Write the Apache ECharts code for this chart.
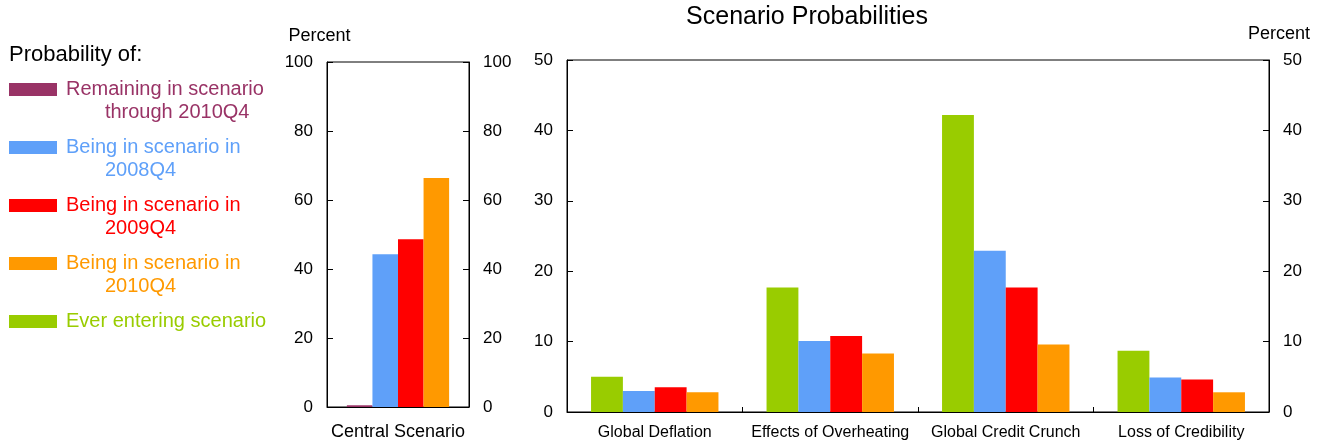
<!DOCTYPE html>
<html>
<head>
<meta charset="utf-8">
<script src="https://cdn.jsdelivr.net/npm/echarts@6/dist/echarts.min.js"></script>
<style>
html,body{margin:0;padding:0;background:#fff;}
#chart{width:1325px;height:446px;}
</style>
</head>
<body>
<div id="chart"></div>
<script>
// ---- data ----
const centralCategories = ['Central Scenario'];
const scenarioCategories = ['Global Deflation', 'Effects of Overheating', 'Global Credit Crunch', 'Loss of Credibility'];

const centralRemaining = [0.5];
const central2008 = [44.3];
const central2009 = [48.6];
const central2010 = [66.4];

const scenarioEver = [5.0, 17.7, 42.2, 8.7];
const scenario2008 = [3.0, 10.1, 22.9, 4.9];
const scenario2009 = [3.5, 10.8, 17.7, 4.6];
const scenario2010 = [2.8, 8.3, 9.6, 2.8];

const seriesNames = ['Remaining in scenario', 'Being in scenario in 2008Q4', 'Being in scenario in 2009Q4', 'Being in scenario in 2010Q4', 'Ever entering scenario'];
const legendLines = [
  ['Remaining in scenario', 'through 2010Q4'],
  ['Being in scenario in', '2008Q4'],
  ['Being in scenario in', '2009Q4'],
  ['Being in scenario in', '2010Q4'],
  ['Ever entering scenario', '']
];
const seriesColors = ['#993366', '#5FA0F9', '#FF0000', '#FF9900', '#99CC00'];

// ---- chart ----
const FONT = 'Liberation Sans, Arial, sans-serif';
const chart = echarts.init(document.getElementById('chart'), null, {renderer: 'canvas'});

function yAxis(gridIndex, pos, max, interval, name, namePad) {
  return {
    type: 'value', gridIndex, position: pos, min: 0, max, interval,
    name: name || '', nameLocation: 'end', nameGap: 17,
    nameTextStyle: {fontFamily: FONT, fontSize: 18, color: '#000', padding: namePad || 0},
    axisLine: {show: true, lineStyle: {color: '#000', width: 1}},
    axisTick: {show: true, inside: true, length: 6, lineStyle: {color: '#000'}},
    axisLabel: {show: true, margin: 14, fontFamily: FONT, fontSize: 17, color: '#000'},
    splitLine: {show: false}
  };
}

function bar(name, data, colorIdx, axisIdx, gap) {
  return {
    type: 'bar', name, data,
    xAxisIndex: axisIdx, yAxisIndex: axisIdx * 2,
    barGap: '0%', barCategoryGap: gap,
    itemStyle: {color: seriesColors[colorIdx]},
    emphasis: {disabled: true},
    animation: false
  };
}

const INDENT = '       ';
const legendData = seriesNames.map((n, i) => ({
  name: n,
  itemStyle: {color: seriesColors[i]},
  textStyle: {color: seriesColors[i]}
}));

chart.setOption({
  animation: false,
  backgroundColor: '#fff',
  title: [
    {text: 'Scenario Probabilities', left: 802, top: 0, textAlign: 'center',
     textStyle: {fontFamily: FONT, fontSize: 25, fontWeight: 'normal', color: '#000'}},
    {text: 'Probability of:', left: 4, top: 39,
     textStyle: {fontFamily: FONT, fontSize: 22, fontWeight: 'normal', color: '#000'}}
  ],
  legend: {
    orient: 'vertical', left: 4, top: 50,
    itemWidth: 48, itemHeight: 13, itemGap: -11,
    icon: 'rect',
    selectedMode: false,
    data: legendData,
    formatter: name => {
      const l = legendLines[seriesNames.indexOf(name)];
      return ' \n' + l[0] + '\n' + (l[1] ? INDENT + l[1] : ' ');
    },
    textStyle: {fontFamily: FONT, fontSize: 20, lineHeight: 23, padding: [0, 0, 0, 4]}
  },
  grid: [
    {left: 327, top: 62, width: 142, height: 345, show: true, borderColor: '#000', borderWidth: 1, containLabel: false},
    {left: 567, top: 60, width: 702, height: 352, show: true, borderColor: '#000', borderWidth: 1, containLabel: false}
  ],
  xAxis: [
    {type: 'category', gridIndex: 0, data: centralCategories,
     axisLine: {show: true, lineStyle: {color: '#000'}},
     axisTick: {show: false},
     axisLabel: {margin: 16, fontFamily: FONT, fontSize: 18, color: '#000'}},
    {type: 'category', gridIndex: 1, data: scenarioCategories,
     axisLine: {show: true, lineStyle: {color: '#000'}},
     axisTick: {show: true, inside: true, length: 5, lineStyle: {color: '#000'}},
     axisLabel: {margin: 13, fontFamily: FONT, fontSize: 16, color: '#000', interval: 0}}
  ],
  yAxis: [
    yAxis(0, 'left', 100, 20, 'Percent', [0, 15, 0, 0]),
    yAxis(0, 'right', 100, 20),
    yAxis(1, 'left', 50, 10),
    yAxis(1, 'right', 50, 10, 'Percent', [0, 0, 0, 20])
  ],
  series: [
    bar(seriesNames[0], centralRemaining, 0, 0, '28%'),
    bar(seriesNames[1], central2008, 1, 0, '28%'),
    bar(seriesNames[2], central2009, 2, 0, '28%'),
    bar(seriesNames[3], central2010, 3, 0, '28%'),
    bar(seriesNames[4], scenarioEver, 4, 1, '27.4%'),
    bar(seriesNames[1], scenario2008, 1, 1, '27.4%'),
    bar(seriesNames[2], scenario2009, 2, 1, '27.4%'),
    bar(seriesNames[3], scenario2010, 3, 1, '27.4%')
  ]
});
</script>
</body>
</html>
